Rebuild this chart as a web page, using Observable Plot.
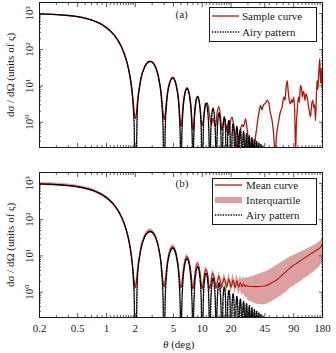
<!DOCTYPE html>
<html><head><meta charset="utf-8">
<script src="https://cdn.jsdelivr.net/npm/d3@7"></script>
<script src="https://cdn.jsdelivr.net/npm/@observablehq/plot@0.6"></script>
<style>
html,body{margin:0;padding:0;background:#fff;}
#wrap{position:relative;width:336px;height:353px;overflow:hidden;font-family:"Liberation Serif","Times New Roman","DejaVu Serif",serif;color:#1a1a1a;}
#wrap > svg{display:block;}
.leg{position:absolute;box-sizing:border-box;background:#fff;border:1px solid #1a1a1a;}
.row{position:absolute;left:0;right:0;height:14px;font-size:11px;line-height:14px;white-space:nowrap;}
.row svg{position:absolute;top:0;}
.row span{position:absolute;top:0;}
#xtitle{position:absolute;font-size:11px;line-height:14px;white-space:nowrap;}
</style></head><body><div id="wrap"></div>
<script>
// ---- axis ticks ----
const xMajor = [0.2, 0.5, 1, 2, 5, 10, 20, 45, 90, 180];
const xMajorLabels = ["0.2", "0.5", "1", "2", "5", "10", "20", "45", "90", "180"];
const xMinor = [0.3,0.4,0.6,0.7,0.8,0.9,1.1,1.2,1.3,1.4,1.5,1.6,1.7,1.8,1.9,3,4,6,7,8,9,11,12,13,14,15,16,17,18,19,30,40,50,60,70,80,100,110,120,130,140,150,160,170];
const yMajor = [1, 10, 100, 1000];
const yMajorLabels = ["10\u2070", "10\u00b9", "10\u00b2", "10\u00b3"];
const yMinor = [0.3,0.4,0.5,0.6,0.7,0.8,0.9,2,3,4,5,6,7,8,9,20,30,40,50,60,70,80,90,200,300,400,500,600,700,800,900];

// ---- Airy pattern ----
const airyTheta = [0.2,0.3,0.4,0.5,0.6,0.7,0.8,0.9,1.0,1.1,1.2,1.3,1.4,1.5,1.6,1.7,1.8,1.9,1.95,2.0,
 2.1,2.25,2.5,2.7,2.86,3.1,3.3,3.5,3.75,3.9,4.0,
 4.1,4.25,4.5,4.92,5.5,5.75,5.9,6.0,
 6.1,6.25,6.5,6.94,7.5,7.75,7.9,8.0,
 8.1,8.25,8.5,8.95,9.5,9.75,10.0,
 10.25,10.5,10.96,11.5,11.75,12.0,
 12.25,12.5,12.97,13.5,13.75,14.0,
 14.25,14.5,14.97,15.5,15.75,16.0,
 16.5,17,17.5,18, 18.5,19,19.5,20, 20.5,21,21.5,22, 22.5,23,23.5,24, 24.5,25,25.5,26,
 26.5,27,27.5,28, 28.5,29,29.5,30, 30.5,31,31.5,32, 32.5,33,33.5,34, 34.5,35,35.5,36,
 36.5,37,37.5,38, 38.5,39,39.5,40, 40.5,41,41.5,42, 42.5,43,43.5,44, 45,46];
const airyValue = [968,928,875,811,737,657,573,488,405,327,255,190,135,90,54.7,28.9,11.9,2.75,0.66,0.001,
 2.25,11.7,32.4,44.1,47.2,41.1,29.5,16.5,4.22,0.65,0.001,
 0.59,3.29,10.0,16.5,6.70,1.79,0.285,0.001,
 0.267,1.52,4.80,8.38,3.60,0.99,0.159,0.001,
 0.151,0.872,2.80,5.05,2.24,0.624,0.001,
 0.565,1.84,3.37,1.53,0.43,0.001,
 0.395,1.30,2.41,1.11,0.314,0.001,
 0.292,0.964,1.81,0.843,0.239,0.001,
 0.744,1.40,0.662,0.001, 0.592,1.12,0.533,0.001, 0.482,0.919,0.438,0.001, 0.400,0.766,0.367,0.001,
 0.338,0.648,0.312,0.001, 0.289,0.556,0.268,0.001, 0.249,0.482,0.233,0.001, 0.218,0.422,0.204,0.001,
 0.192,0.372,0.181,0.001, 0.170,0.331,0.161,0.001, 0.152,0.296,0.144,0.001, 0.137,0.267,0.130,0.001,
 0.124,0.241,0.118,0.001, 0.112,0.219,0.107,0.001, 0.200,0.001];

// ---- (a) sample curve ----
const sampleTheta = [0.2,0.3,0.4,0.5,0.6,0.7,0.8,0.9,1.0,1.1,1.2,1.3,1.4,1.5,1.6,1.7,1.8,1.9,1.95,2.0,2.05,2.1,2.25,2.5,2.7,2.86,3.1,3.3,3.5,3.75,3.9,4.0,4.1,4.25,4.5,4.92,5.5,5.75,5.9,6.0,6.1,6.25,6.5,6.94,7.5,7.75,7.9,8.0,8.1,8.25,8.5,8.95,9.5,9.9,10.3,10.8,11.3,11.9,12.5,13.0,13.4,13.8,14.3,14.9,15.5,16.0,16.6,17.2,17.7,18.3,18.9,19.5,20.5,21.3,22.0,22.6,23.2,24.0,25.0,26.0,27.0,28.3,29.3,30.5,31.5,33,34.5,36,37.5,39,40.6,42,43.5,45.6,47.5,49.5,51,53.6,55.5,57.5,60,62.9,65,68.2,71,73,75,77,79,81,83.5,86,88,90.5,92.5,94.2,96,98,101,103,106,109,111,113,115,118,121,124.6,128,131,135,138.5,142.5,146,149,152,155,158,161,164,166,168.5,170,172,174,176,178,180];
const sampleValue = [968,928,875,811,737,657,573,488,405,327,255,191,136,91,56,30,13.1,3.9,1.85,1.25,1.7,3.4,12.9,33.6,45.3,48,42.3,30.7,17.7,5.4,1.8,1.15,1.7,4.4,11.1,17.5,7.7,2.6,1.0,0.75,0.95,2.2,5.5,9.0,4.2,1.5,0.72,0.6,0.7,1.4,3.3,5.2,2.5,0.8,1.2,3.0,3.4,1.6,0.9,1.3,0.9,0.75,1.8,2.7,1.4,0.6,1.0,1.3,0.55,0.9,0.45,0.9,1.37,0.8,0.45,0.25,0.15,0.4,0.6,0.85,0.75,1.24,0.7,0.28,0.14,0.35,0.18,0.4,0.9,1.8,2.9,2.2,3.0,3.3,4.0,3.5,2.0,1.1,0.5,0.15,0.5,1.1,1.8,2.6,5,4,9,14,7,4,3.2,4.2,3.5,4.9,1.5,0.15,0.8,2.1,5,3.5,10.3,8,5,7,6.7,4,6,4.9,3,2,1.4,3,4,2.5,3,1.1,4,14,8,20,35,56,25,12,30,15,9.3,25];

// ---- (b) mean curve and interquartile range ----
const meanTheta = [0.2,0.3,0.4,0.5,0.6,0.7,0.8,0.9,1.0,1.1,1.2,1.3,1.4,1.5,1.6,1.7,1.8,1.9,1.95,2.0,2.05,2.1,2.25,2.5,2.7,2.86,3.1,3.3,3.5,3.75,3.9,4.0,4.1,4.25,4.5,4.7,4.92,5.2,5.5,5.75,5.9,6.0,6.1,6.25,6.5,6.94,7.5,7.75,7.9,8.0,8.1,8.25,8.5,8.95,9.5,9.75,10.0,10.25,10.5,10.96,11.5,11.75,12.0,12.25,12.5,12.97,13.5,13.75,14.0,14.5,14.97,15.5,16.0,16.5,17.0,17.5,18.0,18.5,19.0,19.5,20.0,20.5,21.0,21.5,22.0,22.5,23.0,23.5,24.0,24.5,25.0,25.5,26.0,27,28,29,30,33,36,40,45,50,55,60,67,75,82,90,100,110,120,130,140,150,160,170,176,180];
const meanValue = [968,928,875,811,737,657,573,488,405,327,256,191,136,91.5,56,30.3,13.3,4.1,2.0,1.35,1.9,3.6,13.0,33.7,45.4,48.5,42.4,30.8,17.8,5.5,1.95,1.4,1.95,4.6,11.3,15.6,17.8,14.8,8.0,3.1,1.6,1.3,1.55,2.8,6.1,9.6,4.9,2.3,1.4,1.25,1.4,2.1,4.0,6.2,3.4,1.8,1.25,1.8,3.0,4.2,2.7,1.6,1.25,1.6,2.4,3.3,2.2,1.6,1.3,2.1,2.8,2.0,1.35,1.95,2.5,1.85,1.35,1.85,2.35,1.75,1.35,1.75,2.2,1.7,1.35,1.7,2.05,1.65,1.38,1.62,1.85,1.6,1.4,1.68,1.42,1.55,1.45,1.43,1.42,1.43,1.48,1.65,1.9,2.2,2.8,3.7,4.6,5.5,6.6,7.9,9.2,10.6,12,13.5,15,17,19,21.5];
const quartileLow = [880,844,795,737,670,597,521,444,368,297,233,174,124,83,50,27,11.6,3.5,1.65,1.1,1.6,3.1,11.3,29.3,39.5,42.2,36.9,26.8,15.5,4.8,1.65,1.15,1.65,4.0,9.8,13.5,15.5,12.9,7.0,2.7,1.35,1.05,1.3,2.4,5.3,8.3,4.3,2.0,1.2,1.0,1.2,1.8,3.5,5.4,2.9,1.55,1.0,1.5,2.5,3.5,2.25,1.3,1.0,1.3,2.0,2.7,1.8,1.3,1.05,1.7,2.25,1.6,1.05,1.5,1.95,1.4,1.0,1.4,1.75,1.3,0.95,1.25,1.55,1.2,0.9,1.15,1.35,1.05,0.85,1.0,1.1,0.95,0.8,0.9,0.72,0.72,0.6,0.53,0.48,0.45,0.45,0.5,0.58,0.66,0.8,1.0,1.25,1.45,1.75,2.1,2.5,2.9,3.3,3.8,4.5,5.3,6.1,7.0];
const quartileHigh = [1065,1021,963,892,811,723,630,537,446,360,282,210,150,101,62,34,15.3,4.8,2.4,1.65,2.3,4.2,15,38.8,52.2,55.8,48.8,35.4,20.5,6.3,2.3,1.7,2.3,5.3,13,17.8,20.5,17,9.2,3.6,1.9,1.6,1.85,3.2,7.0,11.0,5.6,2.65,1.65,1.5,1.65,2.45,4.6,7.1,3.9,2.1,1.5,2.15,3.6,5.0,3.25,1.95,1.55,1.95,2.9,4.0,2.7,1.95,1.6,2.6,3.5,2.5,1.7,2.5,3.3,2.4,1.8,2.5,3.2,2.4,1.9,2.5,3.1,2.45,2.0,2.5,3.0,2.45,2.1,2.4,2.8,2.45,2.2,2.6,2.35,2.55,2.5,2.65,2.9,3.2,3.55,4.1,4.8,5.5,6.6,8.0,9.2,10.3,11.6,13.2,14.8,16.5,18.3,20.2,22.5,25.5,28,31];

const legendA = ["Sample curve", "Airy pattern"];
const legendB = ["Mean curve", "Interquartile", "Airy pattern"];

// ---- styles ----
const FONT = '"Liberation Serif", "Times New Roman", "DejaVu Serif", serif';
const RED = "#b0170f", BAND = "#dca0a0", INK = "#1a1a1a";
const airyRows = airyTheta.map((t, i) => ({t, v: airyValue[i]}));
const sampleRows = sampleTheta.map((t, i) => ({t, v: sampleValue[i]}));
const meanRows = meanTheta.map((t, i) => ({t, v: meanValue[i], lo: quartileLow[i], hi: quartileHigh[i]}));
const xTickRows = xMajor.map((t, i) => ({t, label: xMajorLabels[i]}));
const yTickRows = yMajor.map((v, i) => ({v, label: yMajorLabels[i]}));

function frameMarks() {
  const blank = () => "";
  const common = {tickFormat: blank, label: null, stroke: "#333", strokeWidth: 0.8};
  return [
    Plot.axisX(xMajor, {...common, anchor: "bottom", tickSize: 4, dy: -4}),
    Plot.axisX(xMinor, {...common, anchor: "bottom", tickSize: 2, dy: -2}),
    Plot.axisX(xMajor, {...common, anchor: "top", tickSize: 4, dy: 4}),
    Plot.axisX(xMinor, {...common, anchor: "top", tickSize: 2, dy: 2}),
    Plot.axisY(yMajor, {...common, anchor: "left", tickSize: 4, dx: 4}),
    Plot.axisY(yMinor, {...common, anchor: "left", tickSize: 2, dx: 2}),
    Plot.axisY(yMajor, {...common, anchor: "right", tickSize: 4, dx: -4}),
    Plot.axisY(yMinor, {...common, anchor: "right", tickSize: 2, dx: -2}),
    Plot.frame({stroke: INK, strokeWidth: 1}),
    Plot.text(yTickRows, {y: "v", text: "label", frameAnchor: "left", dx: -10, rotate: -90, textAnchor: "middle", lineAnchor: "middle", fontSize: 11, fill: INK}),
    Plot.text(["d\u03c3 / d\u03a9 (units of \u03c2)"], {text: d => d, frameAnchor: "left", dx: -29, rotate: -90, textAnchor: "middle", lineAnchor: "middle", fontSize: 11, fill: INK})
  ];
}

function panel({height, marginTop, marginBottom, marks}) {
  return Plot.plot({
    width: 336, height, marginTop, marginBottom, marginLeft: 39, marginRight: 14,
    style: {fontFamily: FONT, fontSize: "11px", background: "#fff", color: INK, overflow: "visible"},
    x: {type: "log", domain: [0.2, 180], axis: null},
    y: {type: "log", domain: [0.2, 2000], axis: null},
    marks
  });
}

const dotted = {x: "t", y: "v", stroke: "#000", strokeWidth: 1.4, strokeDasharray: "1.3,1.3", curve: "monotone-x", clip: true};

const panelA = panel({
  height: 160, marginTop: 2, marginBottom: 13,
  marks: [
    Plot.line(sampleRows, {x: "t", y: "v", stroke: RED, strokeWidth: 1.3, curve: "monotone-x", clip: true}),
    Plot.line(airyRows, dotted),
    ...frameMarks(),
    Plot.text(["(a)"], {text: d => d, frameAnchor: "top-left", dx: 136, dy: 12, textAnchor: "start", lineAnchor: "middle", fontSize: 11, fill: INK})
  ]
});

const panelB = panel({
  height: 193, marginTop: 12, marginBottom: 36,
  marks: [
    Plot.areaY(meanRows, {x: "t", y1: "lo", y2: "hi", fill: BAND, curve: "monotone-x", clip: true}),
    Plot.line(meanRows, {x: "t", y: "v", stroke: RED, strokeWidth: 1.1, curve: "monotone-x", clip: true}),
    Plot.line(airyRows, dotted),
    ...frameMarks(),
    Plot.text(xTickRows, {x: "t", text: "label", frameAnchor: "bottom", dy: 11, textAnchor: "middle", lineAnchor: "middle", fontSize: 11, fill: INK}),
    Plot.text(["(b)"], {text: d => d, frameAnchor: "top-left", dx: 136, dy: 11, textAnchor: "start", lineAnchor: "middle", fontSize: 11, fill: INK})
  ]
});

const wrap = document.getElementById("wrap");
wrap.appendChild(panelA);
wrap.appendChild(panelB);

// x title
const xt = document.createElement("div");
xt.id = "xtitle";
xt.innerHTML = "<i>\u03b8</i> (deg)";
xt.style.left = "163px"; xt.style.top = "337px";
wrap.appendChild(xt);

// legends
function swatch(kind) {
  const ns = "http://www.w3.org/2000/svg";
  const s = document.createElementNS(ns, "svg");
  s.setAttribute("width", 27); s.setAttribute("height", 14);
  if (kind === "band") {
    const r = document.createElementNS(ns, "rect");
    r.setAttribute("x", 0); r.setAttribute("y", 4); r.setAttribute("width", 27); r.setAttribute("height", 6);
    r.setAttribute("fill", BAND); s.appendChild(r);
  } else {
    const l = document.createElementNS(ns, "line");
    l.setAttribute("x1", 0); l.setAttribute("x2", 27); l.setAttribute("y1", 7); l.setAttribute("y2", 7);
    if (kind === "red") { l.setAttribute("stroke", RED); l.setAttribute("stroke-width", 1.3); }
    else { l.setAttribute("stroke", "#000"); l.setAttribute("stroke-width", 1.3); l.setAttribute("stroke-dasharray", "1.3,1.3"); }
    s.appendChild(l);
  }
  return s;
}
function legend(left, topY, width, height, labels, kinds, rowCenters, swX, txX) {
  const box = document.createElement("div");
  box.className = "leg";
  Object.assign(box.style, {left: left + "px", top: topY + "px", width: width + "px", height: height + "px"});
  labels.forEach((lab, i) => {
    const row = document.createElement("div");
    row.className = "row";
    row.style.top = (rowCenters[i] - 7) + "px";
    const sw = swatch(kinds[i]); sw.style.left = swX + "px";
    const sp = document.createElement("span"); sp.textContent = lab; sp.style.left = txX + "px";
    row.appendChild(sw); row.appendChild(sp);
    box.appendChild(row);
  });
  wrap.appendChild(box);
}
legend(209, 7, 108, 35, legendA, ["red", "dot"], [8, 24], 2, 32);
legend(212, 178, 105, 47, legendB, ["red", "band", "dot"], [6, 21, 36], 2, 33);
</script>
</body></html>
